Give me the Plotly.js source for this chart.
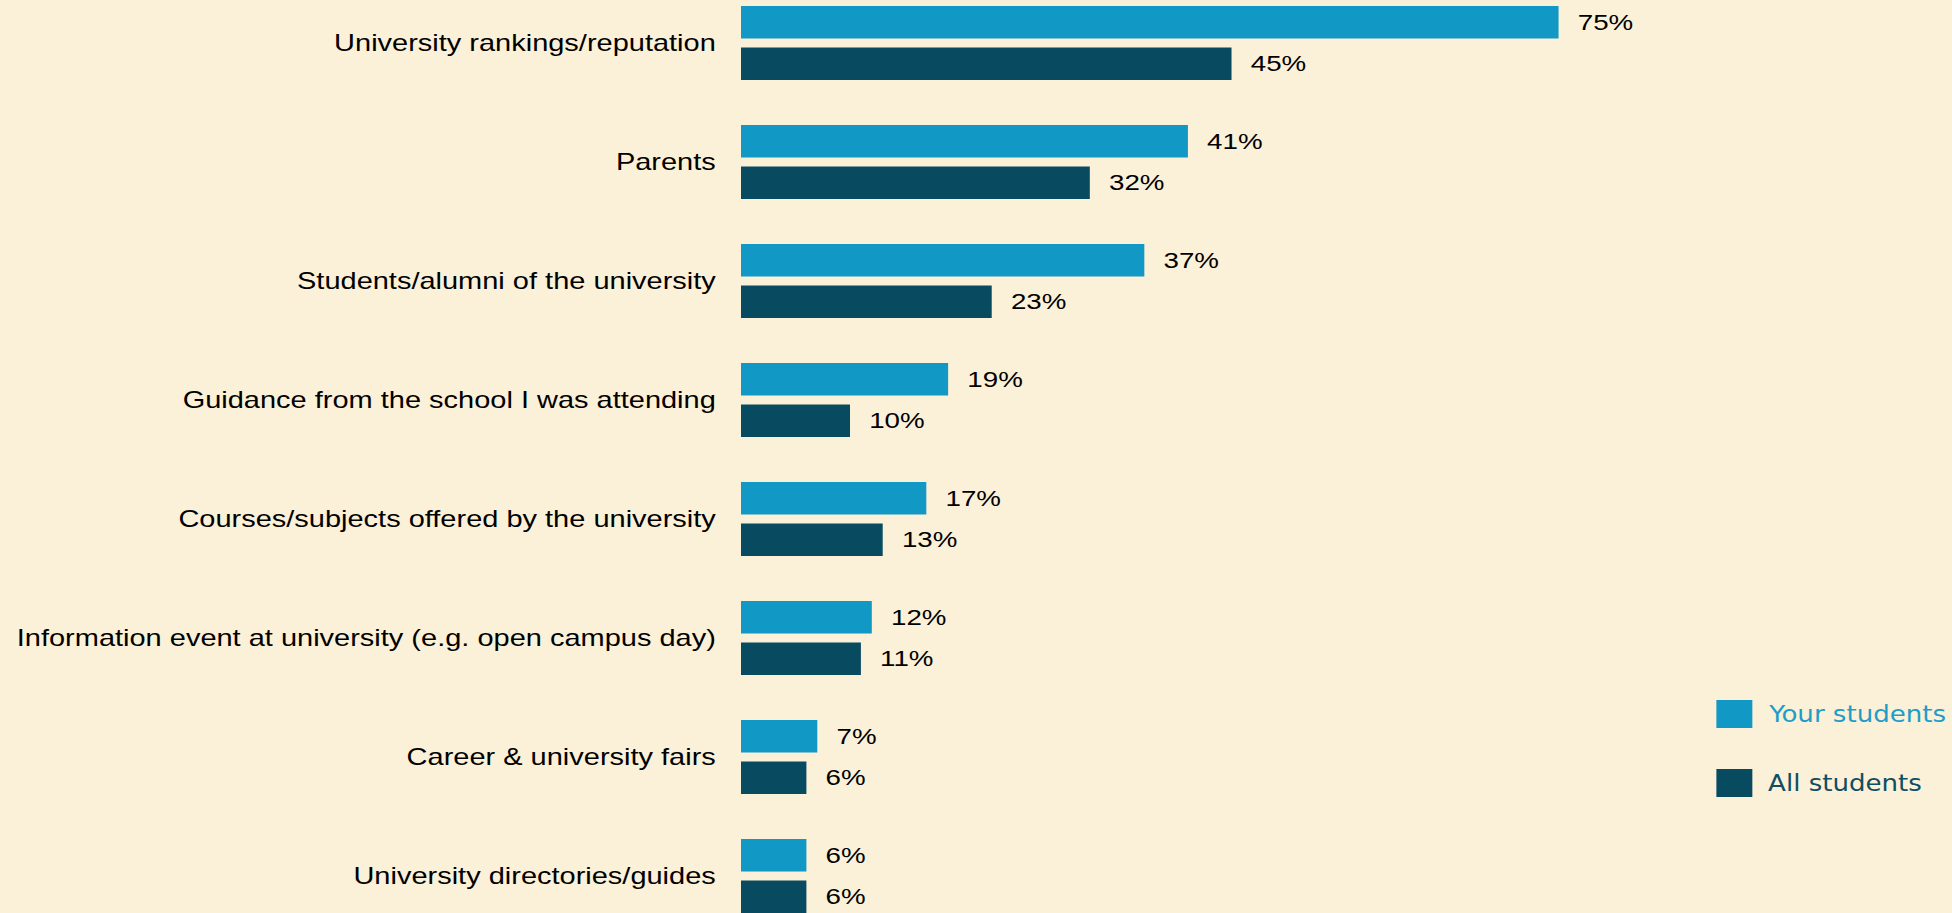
<!DOCTYPE html>
<html>
<head>
<meta charset="utf-8">
<script src="https://cdn.plot.ly/plotly-3.0.1.min.js"></script>
<style>
  html, body { margin:0; padding:0; width:1952px; height:913px; overflow:hidden; background:#FBF0D8; }
  #wrap { position:absolute; left:0; top:0; width:1549px; height:913px; transform:scaleX(1.2602); transform-origin:0 0; }
  #chart { width:1549px; height:913px; }
</style>
</head>
<body>
<div id="wrap"><div id="chart"></div></div>
<script>
// ---- data ----
const categories = [
  "University rankings/reputation",
  "Parents",
  "Students/alumni of the university",
  "Guidance from the school I was attending",
  "Courses/subjects offered by the university",
  "Information event at university (e.g. open campus day)",
  "Career & university fairs",
  "University directories/guides"
];
const yourStudents = [75, 41, 37, 19, 17, 12, 7, 6];
const allStudents  = [45, 32, 23, 10, 13, 11, 6, 6];
const seriesNames  = ["Your students", "All students"];
const seriesColors = ["#1198C4", "#084B61"];
const legendTextColors = ["#1E9DC8", "#0F4E63"];

// ---- font helper ----
function hasFont(f) {
  const c = document.createElement('canvas').getContext('2d');
  c.font = '40px monospace';
  const a = c.measureText('Your students').width;
  c.font = '40px "' + f + '", monospace';
  return Math.abs(c.measureText('Your students').width - a) > 0.5;
}
let legendFont = {family: 'Liberation Sans, Arial, sans-serif', size: 23};
if (hasFont('Liberation Sans Narrow')) legendFont = {family: '"Liberation Sans Narrow"', size: 27};
else if (hasFont('DejaVu Sans Condensed')) legendFont = {family: '"DejaVu Sans Condensed"', size: 23};

const labelFont = {family: 'Liberation Sans, Arial, sans-serif', size: 22, color: '#000'};

const traces = [yourStudents, allStudents].map((vals, i) => ({
  type: 'bar',
  orientation: 'h',
  name: seriesNames[i],
  y: categories,
  x: vals,
  marker: {color: seriesColors[i], line: {width: 0}},
  texttemplate: '  %{x}%',
  textposition: 'outside',
  textfont: labelFont,
  outsidetextfont: labelFont,
  constraintext: 'none',
  cliponaxis: false,
  hoverinfo: 'skip'
}));

// legend drawn as shapes + annotations (large squares as in the reference)
const legendY = [[0.2026, 0.2333], [0.1271, 0.1577]];
const shapes = seriesNames.map((n, i) => ({
  type: 'rect', xref: 'paper', yref: 'paper',
  x0: 0.8054, x1: 0.8351, y0: legendY[i][0], y1: legendY[i][1],
  fillcolor: seriesColors[i], line: {width: 0}
}));
const annotations = seriesNames.map((n, i) => ({
  xref: 'paper', yref: 'paper', x: 0.8465, y: (legendY[i][0] + legendY[i][1]) / 2,
  xanchor: 'left', yanchor: 'middle', showarrow: false,
  text: n, font: Object.assign({color: legendTextColors[i]}, legendFont)
}));

const layout = {
  width: 1549, height: 913,
  margin: {l: 588, r: 0, t: 0, b: 0, pad: 0},
  paper_bgcolor: 'rgba(0,0,0,0)',
  plot_bgcolor: 'rgba(0,0,0,0)',
  showlegend: false,
  barmode: 'group',
  bargap: 0.3025,
  bargroupgap: 0.217,
  xaxis: {range: [0, 111.1], visible: false, showgrid: false, zeroline: false, fixedrange: true},
  yaxis: {
    type: 'category', categoryorder: 'array', categoryarray: categories,
    range: [7.311, -0.361], autorange: false,
    showgrid: false, zeroline: false, showline: false, ticks: '',
    ticklabelstandoff: 19,
    tickfont: {family: 'Liberation Sans, Arial, sans-serif', size: 23, color: '#000'},
    fixedrange: true
  },
  shapes: shapes,
  annotations: annotations
};

Plotly.newPlot('chart', traces, layout, {staticPlot: true, displayModeBar: false});
</script>
</body>
</html>
